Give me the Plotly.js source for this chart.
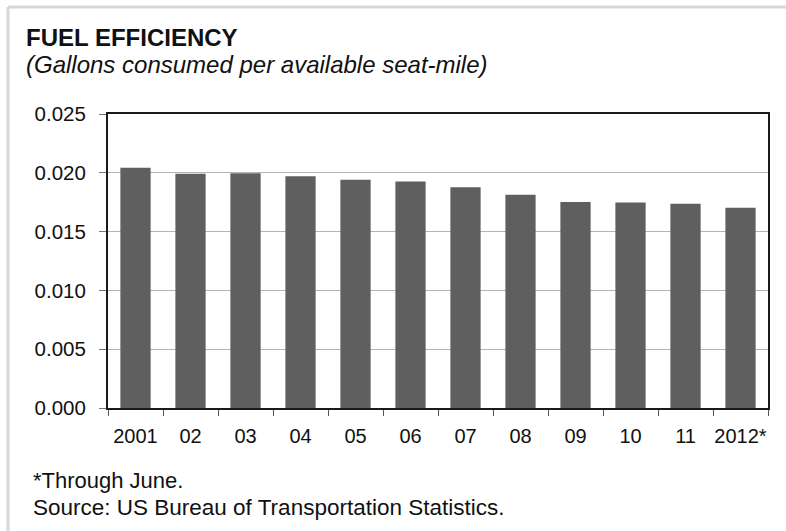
<!DOCTYPE html>
<html>
<head>
<meta charset="utf-8">
<script src="https://cdn.plot.ly/plotly-3.0.1.min.js"></script>
<style>
  html, body { margin: 0; padding: 0; background: #fff; }
  #chart { width: 786px; height: 531px; }
</style>
</head>
<body>
<div id="chart"></div>
<script>
// ---- data ----
const years = ["2001", "02", "03", "04", "05", "06", "07", "08", "09", "10", "11", "2012*"];
const gallonsPerSeatMile = [0.02043, 0.01991, 0.01997, 0.01971, 0.01940, 0.01926, 0.01877, 0.01814, 0.01752, 0.01748, 0.01737, 0.01703];
const yTickValues = [0, 0.005, 0.010, 0.015, 0.020, 0.025];
const yTickLabels = ["0.000", "0.005", "0.010", "0.015", "0.020", "0.025"];
const titleText = "FUEL EFFICIENCY";
const subtitleText = "(Gallons consumed per available seat-mile)";
const footnoteLines = ["*Through June.", "Source: US Bureau of Transportation Statistics."];

// ---- layout geometry (pixels) ----
const W = 786, H = 531;
const M = { l: 108, r: 18, t: 114, b: 123 };
const pw = W - M.l - M.r, ph = H - M.t - M.b;
const px = x => (x - M.l) / pw;
const py = y => (H - M.b - y) / ph;

const FONT = "Arial, 'Liberation Sans', sans-serif";

const trace = {
  type: "bar",
  x: years,
  y: gallonsPerSeatMile,
  marker: { color: "#5f5f5f", line: { width: 0 } },
  hoverinfo: "none"
};

const annotations = [
  { text: "<b>" + titleText + "</b>", x: px(24), y: py(38), font: { size: 24, color: "#111" } },
  { text: "<i>" + subtitleText + "</i>", x: px(24), y: py(64), font: { size: 24, color: "#111" } },
  { text: footnoteLines[0], x: px(31), y: py(480), font: { size: 22, color: "#111" } },
  { text: footnoteLines[1], x: px(31), y: py(507), font: { size: 22.5, color: "#111" } }
].map(a => Object.assign({
  xref: "paper", yref: "paper", xanchor: "left", yanchor: "middle",
  showarrow: false, align: "left"
}, a));

const layout = {
  width: W, height: H,
  margin: M,
  paper_bgcolor: "#fff",
  plot_bgcolor: "#fff",
  font: { family: FONT, color: "#111" },
  showlegend: false,
  bargap: 0.45,
  xaxis: {
    type: "category",
    tickson: "boundaries",
    ticks: "outside",
    ticklen: 6,
    tickcolor: "#555",
    tickwidth: 1,
    tickangle: 0,
    automargin: false,
    showline: true,
    linecolor: "#1a1a1a",
    linewidth: 2,
    mirror: true,
    showgrid: false,
    tickfont: { size: 20, color: "#111", family: FONT },
    ticklabelstandoff: 9
  },
  yaxis: {
    range: [0, 0.025],
    tickvals: yTickValues,
    ticktext: yTickLabels,
    ticks: "outside",
    ticklen: 7,
    tickcolor: "#777",
    tickwidth: 1,
    automargin: false,
    showline: true,
    linecolor: "#1a1a1a",
    linewidth: 2,
    mirror: true,
    showgrid: true,
    gridcolor: "#b4b4b4",
    gridwidth: 1,
    zeroline: false,
    tickfont: { size: 20.5, color: "#111", family: FONT },
    ticklabelstandoff: 9
  },
  annotations: annotations,
  shapes: [
    { type: "line", xref: "paper", yref: "paper", x0: px(8), x1: px(786), y0: py(7), y1: py(7),
      line: { color: "#d8d8d8", width: 3 } },
    { type: "line", xref: "paper", yref: "paper", x0: px(8), x1: px(8), y0: py(7), y1: py(531),
      line: { color: "#d8d8d8", width: 3 } }
  ]
};

Plotly.newPlot("chart", [trace], layout, { staticPlot: true, displayModeBar: false });
</script>
</body>
</html>
